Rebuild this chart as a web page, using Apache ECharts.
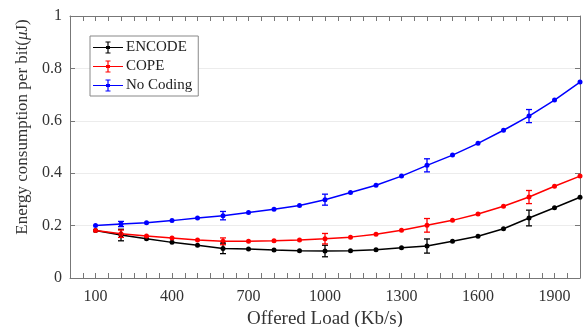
<!DOCTYPE html>
<html>
<head>
<meta charset="utf-8">
<script src="https://cdn.jsdelivr.net/npm/echarts@6/dist/echarts.min.js"></script>
<style>
html,body{margin:0;padding:0;background:#fff;}
#main{width:586px;height:327px;}
</style>
</head>
<body>
<div id="main"></div>
<script>
// offered load (Kb/s)
var loads = [100,200,300,400,500,600,700,800,900,1000,1100,1200,1300,1400,1500,1600,1700,1800,1900,2000];
var encode = [0.181,0.164,0.150,0.136,0.125,0.113,0.111,0.107,0.104,0.103,0.104,0.108,0.115,0.122,0.140,0.159,0.188,0.229,0.268,0.308];
var cope = [0.181,0.169,0.160,0.153,0.145,0.140,0.140,0.142,0.145,0.150,0.156,0.167,0.182,0.201,0.220,0.244,0.274,0.309,0.350,0.389];
var noCoding = [0.200,0.206,0.211,0.219,0.229,0.238,0.250,0.262,0.277,0.299,0.326,0.354,0.389,0.430,0.469,0.514,0.564,0.618,0.679,0.748];
// error bars at these loads (half-width)
var errLoads = [200,600,1000,1400,1800];
var encodeErr = [0.022,0.020,0.022,0.027,0.030];
var copeErr = [0.014,0.013,0.020,0.026,0.025];
var noCodingErr = [0.010,0.016,0.021,0.025,0.025];
var xLabels = [100,400,700,1000,1300,1600,1900];

var font = 'Liberation Serif';
var tickVals = [];
for (var t = 0; t <= 2000; t += 50) tickVals.push(t);

function pairs(ys) {
	return loads.map(function(x, i) { return [x, ys[i]]; });
}
function errData(ys, errs) {
	return errLoads.map(function(x, i) {
		var y = ys[loads.indexOf(x)];
		return [x, y - errs[i], y + errs[i]];
	});
}
// legend icon: line with error bar and dot
var icon = 'path://M0,6.4H30V7.6H0Z M14.4,1H15.6V13H14.4Z M12.5,1H17.5V2H12.5Z M12.5,12H17.5V13H12.5Z M13,5.5H17V8.5H13Z';

function lineSeries(name, color, ys) {
	return {
		name: name,
		type: 'line',
		data: pairs(ys),
		symbol: 'circle',
		symbolSize: 5,
		showSymbol: true,
		lineStyle: {color: color, width: 1.5},
		itemStyle: {color: color},
		z: 3
	};
}
function errSeries(name, color, ys, errs) {
	return {
		name: name,
		type: 'custom',
		data: errData(ys, errs),
		z: 4,
		renderItem: function(params, api) {
			var lo = api.coord([api.value(0), api.value(1)]);
			var hi = api.coord([api.value(0), api.value(2)]);
			var w = 3;
			var st = {stroke: color, lineWidth: 1.3};
			return {
				type: 'group',
				children: [
					{type: 'line', shape: {x1: lo[0], y1: lo[1], x2: hi[0], y2: hi[1]}, style: st},
					{type: 'line', shape: {x1: lo[0] - w, y1: lo[1], x2: lo[0] + w, y2: lo[1]}, style: st},
					{type: 'line', shape: {x1: hi[0] - w, y1: hi[1], x2: hi[0] + w, y2: hi[1]}, style: st}
				]
			};
		}
	};
}

var axisLineStyle = {color: '#777', width: 1};
var chart = echarts.init(document.getElementById('main'));
chart.setOption({
	backgroundColor: '#fff',
	animation: false,
	grid: {left: 70, right: 6, top: 16, bottom: 49, outerBoundsMode: 'none'},
	legend: {
		left: 90, top: 36,
		orient: 'vertical',
		data: ['ENCODE', 'COPE', 'No Coding'],
		icon: icon,
		itemWidth: 30, itemHeight: 14,
		itemGap: 4,
		padding: [4, 6, 3, 3],
		borderColor: '#888', borderWidth: 1,
		backgroundColor: '#fff',
		textStyle: {fontFamily: font, fontSize: 15, color: '#222', padding: [0, 0, 0, -2]}
	},
	xAxis: [{
		type: 'value',
		min: 0, max: 2000,
		name: 'Offered Load (Kb/s)',
		nameLocation: 'middle',
		nameGap: 31,
		nameTextStyle: {fontFamily: font, fontSize: 19, color: '#333'},
		axisLine: {show: true, onZero: false, lineStyle: axisLineStyle},
		axisTick: {show: true, inside: true, length: 5, customValues: tickVals, lineStyle: axisLineStyle},
		axisLabel: {customValues: xLabels, fontFamily: font, fontSize: 16, color: '#333', margin: 11,
			formatter: function(v) { return String(v); }},
		splitLine: {show: false}
	}, {
		type: 'value',
		position: 'top',
		min: 0, max: 2000,
		axisLine: {show: true, onZero: false, lineStyle: axisLineStyle},
		axisTick: {show: true, inside: true, length: 5, customValues: tickVals, lineStyle: axisLineStyle},
		axisLabel: {show: false},
		splitLine: {show: false}
	}],
	yAxis: [{
		type: 'value',
		min: 0, max: 1, interval: 0.2,
		name: 'Energy consumption per bit({i|\u03bc}J)',
		nameLocation: 'middle',
		nameGap: 34,
		nameTextStyle: {
			fontFamily: font, fontSize: 17, color: '#333',
			padding: [0, 0, 0, 40],
			rich: {i: {fontFamily: font, fontSize: 17, fontStyle: 'italic', color: '#333'}}
		},
		axisLine: {show: true, onZero: false, lineStyle: axisLineStyle},
		axisTick: {show: true, inside: true, length: 5, lineStyle: axisLineStyle},
		axisLabel: {fontFamily: font, fontSize: 16, color: '#333', margin: 8},
		splitLine: {show: true, lineStyle: {color: '#ececec', width: 1}}
	}, {
		type: 'value',
		position: 'right',
		min: 0, max: 1, interval: 0.2,
		axisLine: {show: true, onZero: false, lineStyle: axisLineStyle},
		axisTick: {show: true, inside: true, length: 5, lineStyle: axisLineStyle},
		axisLabel: {show: false},
		splitLine: {show: false}
	}],
	series: [
		lineSeries('ENCODE', '#000000', encode),
		lineSeries('COPE', '#ff0000', cope),
		lineSeries('No Coding', '#0000ff', noCoding),
		errSeries('ENCODE', '#000000', encode, encodeErr),
		errSeries('COPE', '#ff0000', cope, copeErr),
		errSeries('No Coding', '#0000ff', noCoding, noCodingErr)
	]
});
</script>
</body>
</html>
